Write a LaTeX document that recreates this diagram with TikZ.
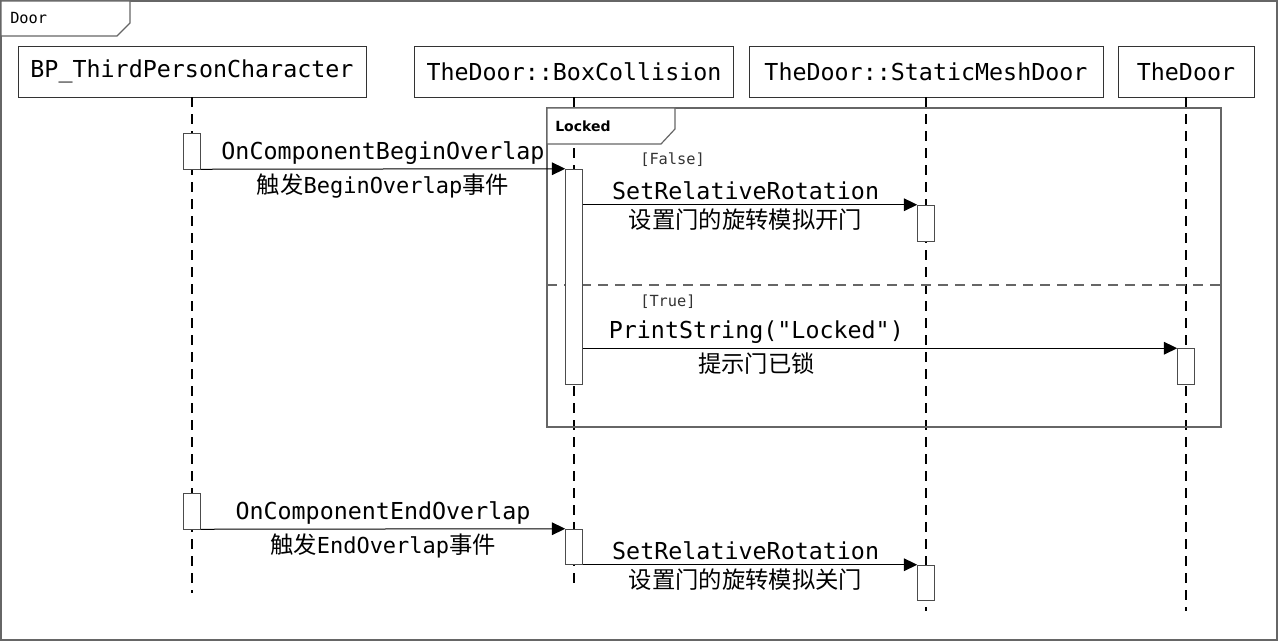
\documentclass[tikz,border=0pt]{standalone}
\usepackage{fontspec}
\setmonofont{DejaVu Sans Mono}
\setsansfont{DejaVu Sans}
\newfontfamily\cjk{Noto Sans CJK SC}
\usetikzlibrary{arrows.meta,positioning,calc}
\newcommand{\lat}[1]{{\fontsize{16.5pt}{18pt}\selectfont\ttfamily #1}}

\begin{document}
\begin{tikzpicture}[x=0.75pt, y=-0.75pt, every node/.style={inner sep=0pt}, party/.style={rectangle, draw=black!80, minimum height=38.25pt, font=\fontsize{17.5pt}{20pt}\selectfont\ttfamily}, act/.style={rectangle, draw=black!70, fill=white, minimum width=12.75pt, minimum height=27pt}, life/.style={line width=1.4pt, dash pattern=on 7.5pt off 5.25pt}, frm/.style={draw=black!60, line width=0.9pt}, msg/.style={-{Triangle[length=10pt,width=9.5pt]}, line width=0.75pt}, call/.style={font=\fontsize{17.5pt}{20pt}\selectfont\ttfamily, inner sep=1pt}, note/.style={font=\fontsize{17.5pt}{20pt}\selectfont\cjk, inner sep=3pt}, guard/.style={font=\fontsize{11.5pt}{13pt}\selectfont\ttfamily, text=black!80}]
\useasboundingbox (0,0) rectangle (1279,642);
% outer frame
\draw[frm] (1,1) rectangle (1277,640);
\draw[frm, fill=white] (1,1) -- (1,36) -- (117,36) -- (130,23) -- (130,1) -- cycle;
\node[font=\fontsize{11.5pt}{13pt}\selectfont\ttfamily, anchor=west] (door) at (10,18) {Door};
% participants
\node[party, minimum width=261pt] (bp) at (192,71.5) {BP\_ThirdPersonCharacter};
\node[party, minimum width=239.25pt] (bc) at (574,71.5) {TheDoor::BoxCollision};
\node[party, minimum width=265.5pt] (sm) at (926,71.5) {TheDoor::StaticMeshDoor};
\node[party, minimum width=102pt] (td) at (1186,71.5) {TheDoor};
\coordinate (bpEnd) at (192,593);
\coordinate (bcEnd) at (574,590);
\coordinate (smEnd) at (926,611);
\coordinate (tdEnd) at (1186,611);
\draw[life] (bp.south) -- (bpEnd);
\draw[life] (bc.south) -- (bcEnd);
\draw[life] (sm.south) -- (smEnd);
\draw[life] (td.south) -- (tdEnd);
% Locked fragment
\draw[frm] (547,108) rectangle (1221,427);
\draw[frm, fill=white] (547,108) -- (547,144) -- (661,144) -- (675,129) -- (675,108) -- cycle;
\node[font=\fontsize{10.5pt}{12pt}\selectfont\sffamily\bfseries, anchor=west] (lk) at (555,126) {Locked};
\draw[frm, dash pattern=on 7.5pt off 5.25pt] (547,285) -- (1221,285);
\node[guard, anchor=west] (gFalse) at (640,160) {[False]};
\node[guard, anchor=west] (gTrue) at (640,302) {[True]};
% activations
\node[act] (bpA) at (192,151) {};
\node[act, minimum height=161.25pt] (bcA) at (574,276.5) {};
\node[act] (smA) at (926,223) {};
\node[act] (tdA) at (1186,366.5) {};
\node[act] (bpB) at (192,511) {};
\node[act, minimum height=26.25pt] (bcB) at (574,546.5) {};
\node[act, minimum height=26.25pt] (smB) at (926,582.5) {};
% messages
\draw[msg] (bpA.south east) -- (bcA.north west) node[call, pos=0.5, above=2.25pt] {OnComponentBeginOverlap} node[note, pos=0.5, below] {触发\lat{BeginOverlap}事件};
\draw[msg] (bcA.east |- smA.north) -- (smA.north west) node[call, pos=0.487, above=2.25pt] {SetRelativeRotation} node[note, pos=0.487, below] {设置门的旋转模拟开门};
\draw[msg] (bcA.east |- tdA.north) -- (tdA.north west) node[call, pos=0.292, above=2.25pt] {PrintString("Locked")} node[note, pos=0.292, below] {提示门已锁};
\draw[msg] (bpB.south east) -- (bcB.north west) node[call, pos=0.5, above=2.25pt] {OnComponentEndOverlap} node[note, pos=0.5, below] {触发\lat{EndOverlap}事件};
\draw[msg] (bcB.east |- smB.north) -- (smB.north west) node[call, pos=0.487, above=2.25pt] {SetRelativeRotation} node[note, pos=0.487, below] {设置门的旋转模拟关门};
\end{tikzpicture}
\end{document}
